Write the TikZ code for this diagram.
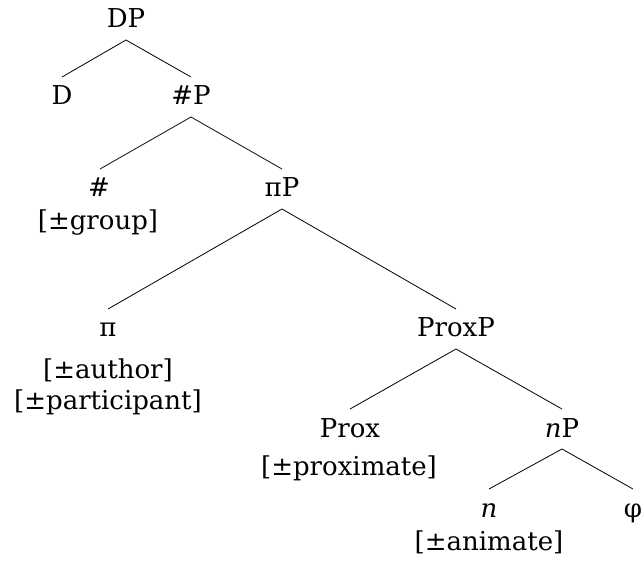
\documentclass[tikz,border=0pt]{standalone}
\usepackage{fontspec}
\setmainfont{DejaVu Serif}
\begin{document}
\begin{tikzpicture}[x=1pt,y=-1pt,
  lbl/.style={anchor=base,inner sep=0pt,font=\fontsize{26}{31}\selectfont},
  edge/.style={line width=0.8pt}]
\useasboundingbox (0,0) rectangle (643,564);
\node[lbl] (DP) at (126,28) {DP};
\node[lbl] (D) at (62,105) {D};
\node[lbl] (hP) at (191,105) {\#P};
\node[lbl] (h) at (99,197) {\#};
\node[lbl] (group) at (98,230) {[±group]};
\node[lbl] (piP) at (282,197) {πP};
\node[lbl] (pi) at (108,337) {π};
\node[lbl] (author) at (108,378) {[±author]};
\node[lbl] (particip) at (108,409) {[±participant]};
\node[lbl] (ProxP) at (456,337) {ProxP};
\node[lbl] (Prox) at (350,437) {Prox};
\node[lbl] (proxim) at (349,475) {[±proximate]};
\node[lbl] (nP) at (562,437) {\textit{n}P};
\node[lbl] (n) at (489,517) {\textit{n}};
\node[lbl] (anim) at (489,550) {[±animate]};
\node[lbl] (phi) at (633,517) {φ};
\draw[edge] ([yshift=-12pt]DP.base) -- ([yshift=28pt]D.base);
\draw[edge] ([yshift=-12pt]DP.base) -- ([yshift=28pt]hP.base);
\draw[edge] ([yshift=-12pt]hP.base) -- ([xshift=1pt,yshift=28pt]h.base);
\draw[edge] ([yshift=-12pt]hP.base) -- ([yshift=28pt]piP.base);
\draw[edge] ([yshift=-12pt]piP.base) -- ([yshift=28pt]pi.base);
\draw[edge] ([yshift=-12pt]piP.base) -- ([yshift=28pt]ProxP.base);
\draw[edge] ([yshift=-12pt]ProxP.base) -- ([yshift=28pt]Prox.base);
\draw[edge] ([yshift=-12pt]ProxP.base) -- ([yshift=28pt]nP.base);
\draw[edge] ([yshift=-12pt]nP.base) -- ([yshift=28pt]n.base);
\draw[edge] ([yshift=-12pt]nP.base) -- ([yshift=28pt]phi.base);
\end{tikzpicture}
\end{document}
